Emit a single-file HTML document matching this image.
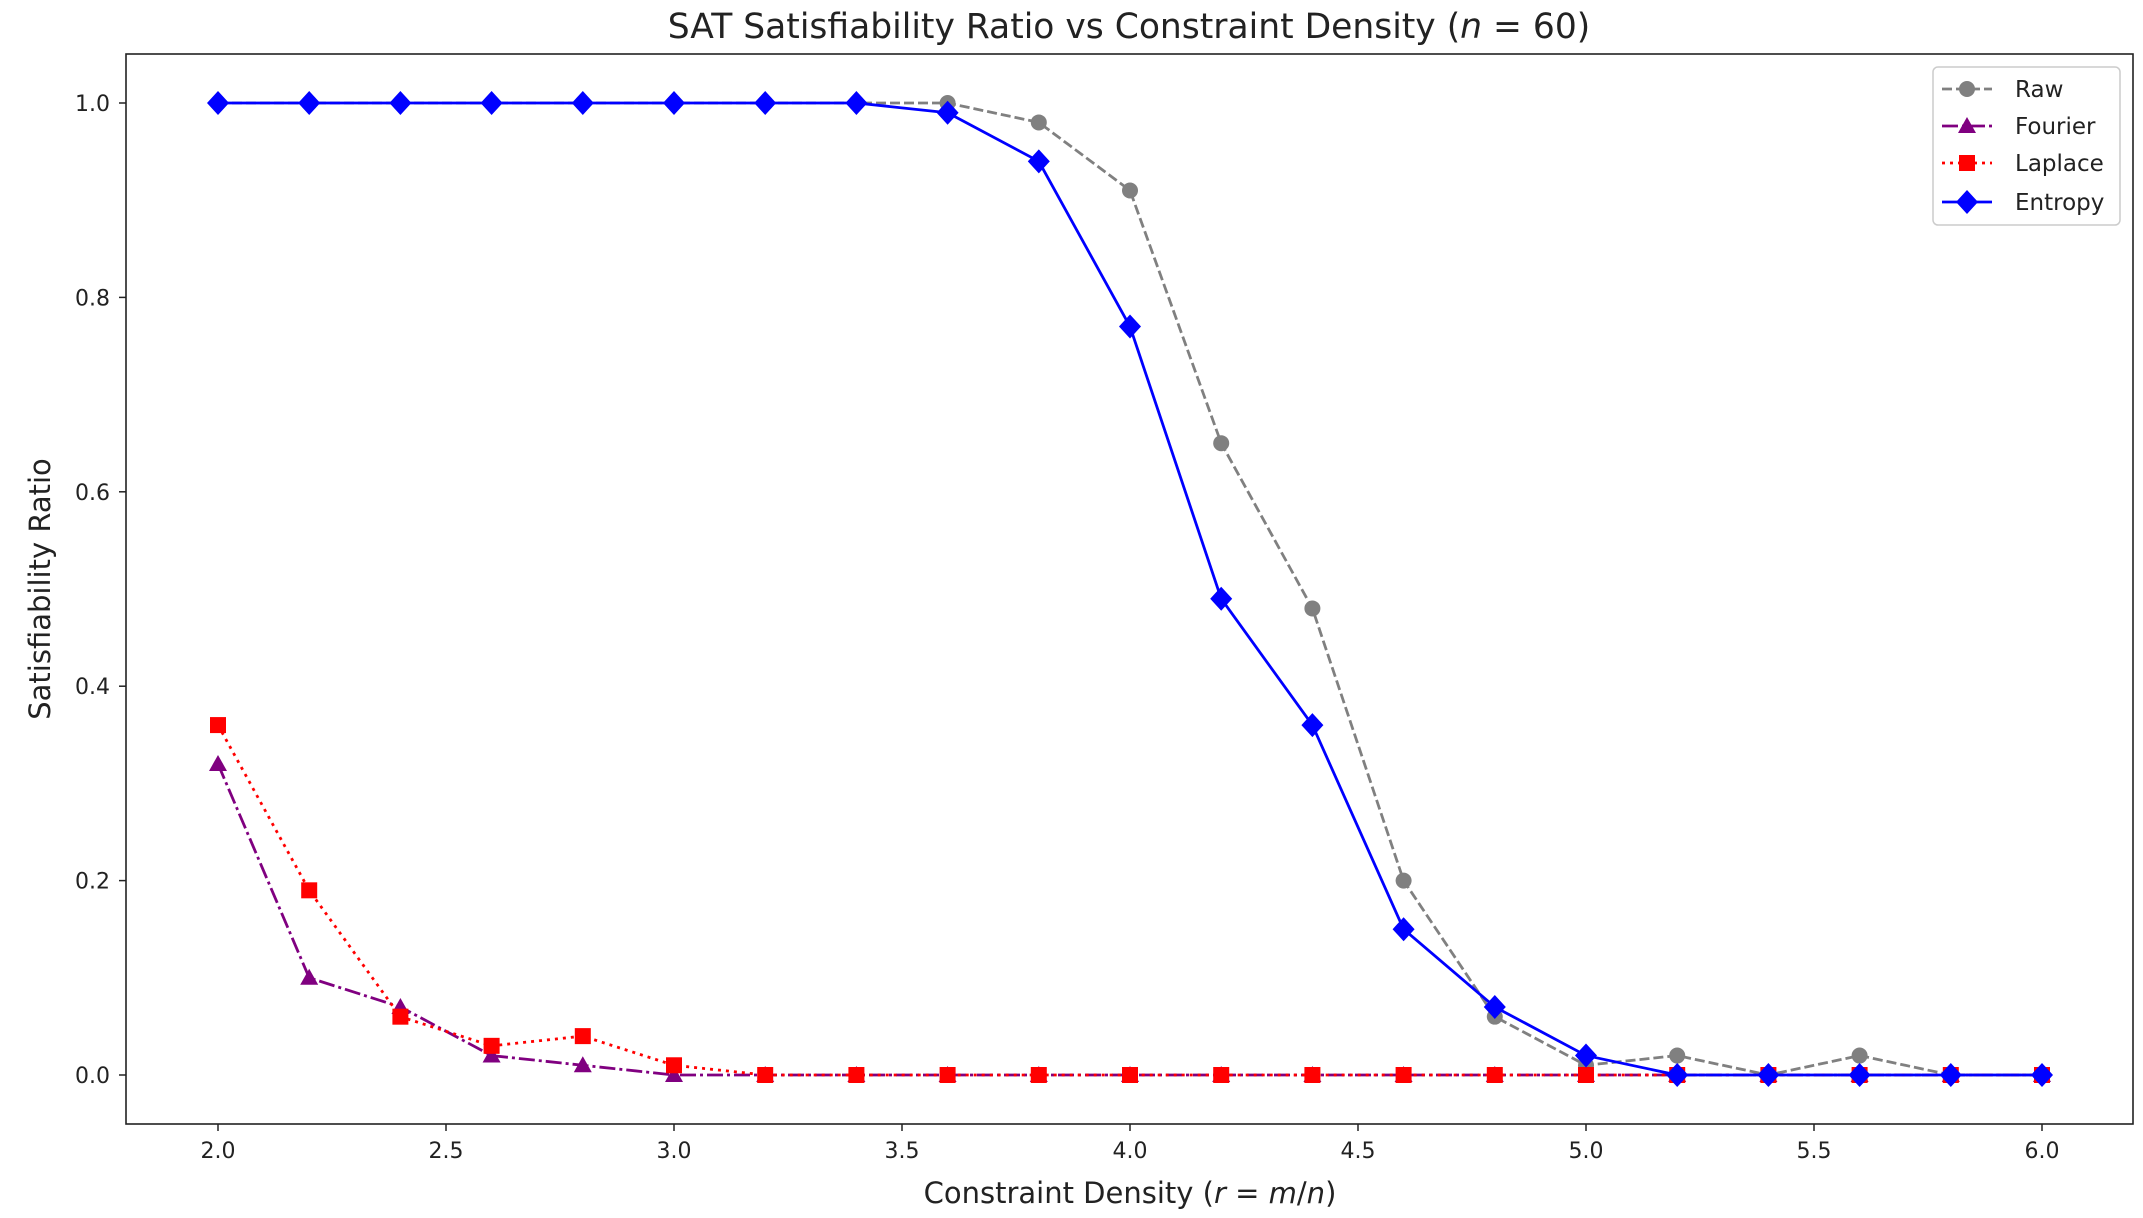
<!DOCTYPE html>
<html><head><meta charset="utf-8"><style>body{margin:0;background:#fff}svg{display:block}text{font-family:"DejaVu Sans","Liberation Sans",sans-serif;fill:#222}</style></head>
<body>
<svg id="s" width="2143" height="1218" xmlns="http://www.w3.org/2000/svg"></svg>
<script>
const s=document.getElementById('s');let h='';
const px=x=>218+(x-2)*456, py=y=>1075-y*972;
h+='<rect x="0" y="0" width="2143" height="1218" fill="#fff"/>';
for(let i=0;i<=8;i++){const x=2+i*0.5,X=px(x);h+=`<line x1="${X}" y1="1124" x2="${X}" y2="1131" stroke="#222" stroke-width="1.5"/><text x="${X}" y="1158" font-size="22" text-anchor="middle">${x.toFixed(1)}</text>`;}
for(let i=0;i<=5;i++){const y=i*0.2,Y=py(y);h+=`<line x1="119" y1="${Y}" x2="126" y2="${Y}" stroke="#222" stroke-width="1.5"/><text x="110" y="${Y+8}" font-size="22" text-anchor="end">${y.toFixed(1)}</text>`;}
h+='<text x="1130" y="1203" font-size="29" text-anchor="middle">Constraint Density (<tspan font-style="italic">r</tspan> = <tspan font-style="italic">m</tspan>/<tspan font-style="italic">n</tspan>)</text>';
h+='<text transform="translate(50,589) rotate(-90)" font-size="29" text-anchor="middle">Satisfiability Ratio</text>';
h+='<text x="1129" y="38" font-size="34.5" text-anchor="middle">SAT Satisfiability Ratio vs Constraint Density (<tspan font-style="italic">n</tspan> = 60)</text>';
const xs=[];for(let i=0;i<21;i++)xs.push(2+i*0.2);
const raw=[1,1,1,1,1,1,1,1,1,.98,.91,.65,.48,.20,.06,.01,.02,0,.02,0,0];
const ent=[1,1,1,1,1,1,1,1,.99,.94,.77,.49,.36,.15,.07,.02,0,0,0,0,0];
const fou=[.32,.10,.07,.02,.01,0,0,0,0,0,0,0,0,0,0,0,0,0,0,0,0];
const lap=[.36,.19,.06,.03,.04,.01,0,0,0,0,0,0,0,0,0,0,0,0,0,0,0];
function mk(t,X,Y,c){if(t=='o')return `<circle cx="${X}" cy="${Y}" r="8" fill="${c}"/>`;
if(t=='^')return `<polygon points="${X},${Y-9} ${X+9},${Y+7} ${X-9},${Y+7}" fill="${c}"/>`;
if(t=='s')return `<rect x="${X-8}" y="${Y-8}" width="16" height="16" fill="${c}"/>`;
return `<polygon points="${X},${Y-12} ${X+11},${Y} ${X},${Y+12} ${X-11},${Y}" fill="${c}"/>`;}
function ser(d,c,dash,t){let p=d.map((v,i)=>px(xs[i])+','+py(v)).join(' ');h+=`<polyline points="${p}" fill="none" stroke="${c}" stroke-width="2.8" ${dash?`stroke-dasharray="${dash}"`:''} stroke-linejoin="round"/>`;d.forEach((v,i)=>h+=mk(t,px(xs[i]),py(v),c));}
ser(raw,'#808080','10,4','o');ser(fou,'#800080','16,4,3,4','^');ser(lap,'#ff0000','3,5','s');ser(ent,'#0000ff','','D');
h+='<rect x="126" y="54" width="2007" height="1070" fill="none" stroke="#222" stroke-width="1.6"/>';
h+='<rect x="1933" y="67" width="187" height="158" rx="5" fill="#fff" fill-opacity="0.85" stroke="#ccc" stroke-width="1.5"/>';
const L=[['Raw','#808080','10,4','o',89],['Fourier','#800080','16,4,3,4','^',126],['Laplace','#ff0000','3,5','s',163],['Entropy','#0000ff','','D',202]];
L.forEach(([n,c,d,t,y])=>{h+=`<line x1="1942" y1="${y}" x2="1992" y2="${y}" stroke="${c}" stroke-width="2.8" ${d?`stroke-dasharray="${d}"`:''}/>`+mk(t,1967,y,c)+`<text x="2015" y="${y+8}" font-size="23">${n}</text>`;});
s.innerHTML=h;
</script>
</body></html>
